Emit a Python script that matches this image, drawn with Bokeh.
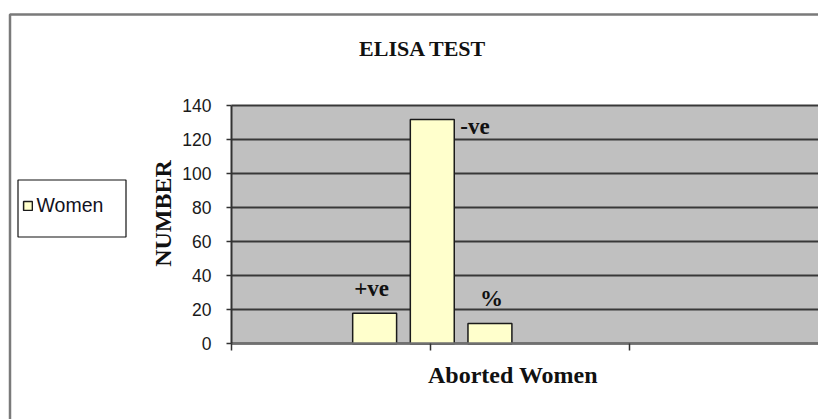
from bokeh.plotting import figure
from bokeh.models import (Range1d, FixedTicker, Label, BoxAnnotation, Legend, LegendItem,
                          LinearAxis, Grid)
from bokeh.embed import file_html
from bokeh.resources import INLINE
from bokeh.core.properties import value

# ---- data ----
title_text = "ELISA TEST"
x_title = "Aborted Women"
y_title = "NUMBER"
series_name = "Women"
categories = ["+ve", "-ve", "%"]
counts = [18, 132, 12]
y_ticks = [0, 20, 40, 60, 80, 100, 120, 140]
x_ticks = [0, 1, 2]

# ---- layout constants (pixels of the 818x419 canvas) ----
W, H = 818, 419
X0_PX, PX_PER_X = 231.0, 198.8      # where x=0 sits, pixels per x unit
Y0_PX, PX_PER_Y = 343.3, 1.6986     # where y=0 sits, pixels per y unit
X_END = (W - X0_PX) / PX_PER_X
Y_TOP = 140
group_center = 1.01
bar_step = 0.29
bar_width = 0.221
xs = [group_center + (i - 1) * bar_step for i in range(len(categories))]

SERIF = "Liberation Serif"
SANS = "Liberation Sans"
INK = "#111111"
BAR_FILL = "#ffffcc"

p = figure(width=W, height=H, output_backend="svg", toolbar_location=None, title=None,
           x_range=Range1d(-X0_PX / PX_PER_X, X_END),
           y_range=Range1d(-(H - Y0_PX) / PX_PER_Y, Y0_PX / PX_PER_Y),
           x_axis_location=None, y_axis_location=None,
           min_border=0, background_fill_color="white", border_fill_color="white",
           outline_line_color=None)
p.grid.visible = False

# plot area (wall)
p.add_layout(BoxAnnotation(left=0, right=X_END, bottom=0, top=Y_TOP, fill_color="#c0c0c0",
                           fill_alpha=1, line_color=None, level="image"))

# grid lines
p.add_layout(Grid(dimension=1, ticker=FixedTicker(ticks=y_ticks), cross_bounds=(0, X_END),
                  grid_line_color="#383838", grid_line_width=2))

# y axis
yaxis = LinearAxis(fixed_location=0, bounds=(0, Y_TOP), ticker=FixedTicker(ticks=y_ticks))
yaxis.major_tick_out = 5
yaxis.major_tick_in = 0
yaxis.minor_tick_line_color = None
yaxis.axis_line_color = "#333333"
yaxis.axis_line_width = 2
yaxis.major_tick_line_color = "#333333"
yaxis.major_tick_line_width = 1.5
yaxis.major_label_text_font = SANS
yaxis.major_label_text_font_size = "17.5px"
yaxis.major_label_text_color = "#1a1a1a"
yaxis.major_label_standoff = 15
p.add_layout(yaxis, "left")

# x axis
xaxis = LinearAxis(fixed_location=0, bounds=(0, X_END), ticker=FixedTicker(ticks=x_ticks))
xaxis.major_label_overrides = {t: "" for t in x_ticks}
xaxis.major_tick_out = 7
xaxis.major_tick_in = 0
xaxis.minor_tick_line_color = None
xaxis.axis_line_color = "#707070"
xaxis.axis_line_width = 2.5
xaxis.major_tick_line_color = "#333333"
xaxis.major_tick_line_width = 1.5
p.add_layout(xaxis, "below")

bars = p.vbar(x=xs, top=counts, width=bar_width, fill_color=BAR_FILL,
              line_color="#1a1a1a", line_width=1.5)

# bar labels
label_style = [(-3, -24.5, "center"), (28, 7, "left"), (1.5, -24.5, "center")]
for i, cat in enumerate(categories):
    dx, dy, al = label_style[i]
    p.text(x=[xs[i]], y=[counts[i]], text=[cat], x_offset=dx, y_offset=dy,
           text_align=al, text_baseline="alphabetic", text_font=value(SERIF),
           text_font_style="bold", text_font_size="23px", text_color=INK)

# outer chart border
p.add_layout(BoxAnnotation(left=9.5, right=W + 50, top=H - 14, bottom=-50,
                           left_units="screen", right_units="screen",
                           top_units="screen", bottom_units="screen",
                           fill_color=None, line_color="#7a7a7a", line_alpha=1,
                           line_width=2.5))

# titles
p.add_layout(Label(x=422.5, y=H - 48, x_units="screen", y_units="screen", text=title_text,
                   text_align="center", text_baseline="alphabetic", text_font=SERIF,
                   text_font_style="bold", text_font_size="22px", text_color=INK))
p.add_layout(Label(x=162.5, y=H - 213, x_units="screen", y_units="screen", text=y_title,
                   angle=90, angle_units="deg", text_align="center", text_baseline="middle",
                   text_font=SERIF, text_font_style="bold", text_font_size="24px",
                   text_color=INK))
p.add_layout(Label(x=512.5, y=H - 374, x_units="screen", y_units="screen", text=x_title,
                   text_align="center", text_baseline="alphabetic", text_font=SERIF,
                   text_font_style="bold", text_font_size="24px", text_color=INK))

# legend box + legend
p.add_layout(BoxAnnotation(left=17.5, right=125.5, top=H - 179.5, bottom=H - 236.5,
                           left_units="screen", right_units="screen",
                           top_units="screen", bottom_units="screen",
                           fill_color="white", fill_alpha=1, line_color="#111111",
                           line_alpha=1, line_width=1.2))
legend = Legend(items=[LegendItem(label=series_name, renderers=[bars])],
                location=(21.5, H - 217), padding=0, margin=0,
                border_line_alpha=0, background_fill_alpha=0,
                glyph_width=11, glyph_height=11, label_standoff=4,
                label_text_font=SANS, label_text_font_size="19.5px",
                label_text_color="#111122")
p.add_layout(legend)

open("out.html", "w").write(file_html(p, INLINE))
